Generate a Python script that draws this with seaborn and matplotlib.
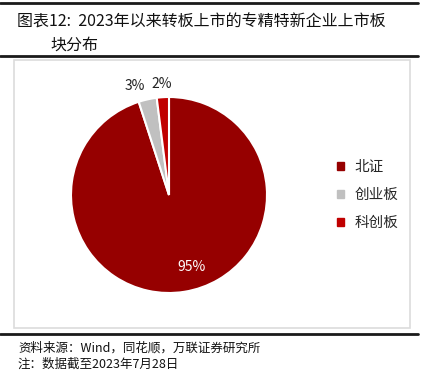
import matplotlib
matplotlib.use("Agg")
import matplotlib.pyplot as plt
import seaborn as sns
import numpy as np
from matplotlib.patches import Rectangle
from matplotlib.lines import Line2D

sns.set_theme(style="white")
plt.rcParams['font.family'] = ['Noto Sans CJK SC', 'DejaVu Sans']

# data
boards = ['北证', '创业板', '科创板']
shares = [95, 3, 2]
colors = ['#960000', '#c0c0c0', '#c00000']

W, H = 431, 374
fig = plt.figure(figsize=(W / 100, H / 100), dpi=100)

def fx(px):
    return px / W

def fy(py):
    return 1 - py / H

# title rules and frame
for y, lw in [(3, 2.0), (56, 2.0), (334, 2.0)]:
    fig.add_artist(Line2D([0, fx(418)], [fy(y), fy(y)], color='#1a1a1a', lw=lw))
fig.add_artist(Rectangle((fx(14), fy(328)), fx(396), 268 / H, fill=False,
                         edgecolor='#dcdcdc', lw=1.2))

fig.text(fx(17), fy(22), '图表12:  2023年以来转板上市的专精特新企业上市板',
         fontsize=11.5, va='center', ha='left', color='#111111')
fig.text(fx(50), fy(45), '块分布', fontsize=11.5, va='center', ha='left', color='#111111')

# pie
cx, cy, r = 169, 195, 98
ax = fig.add_axes([fx(cx - r), fy(cy + r), 2 * r / W, 2 * r / H])
wedges, texts = ax.pie(shares, colors=colors, startangle=90, counterclock=False,
                       labels=[f'{v}%' for v in shares], labeldistance=1.14,
                       wedgeprops=dict(edgecolor='white', linewidth=1.5),
                       textprops=dict(fontsize=10, color='#222222'))
ax.set_xlim(-1, 1)
ax.set_ylim(-1, 1)
ax.set_aspect('auto')
ax.axis('off')

# big slice label inside
ang = np.deg2rad(-73)
texts[0].set_position((0.77 * np.cos(ang), 0.77 * np.sin(ang)))
texts[0].set_color('white')
for t in texts:
    t.set_va('center')
texts[0].set_ha('center')
texts[1].set_ha('right')
texts[2].set_ha('center')

# legend
handles = [Rectangle((0, 0), 1, 1, color=c) for c in colors]
fig.legend(handles, boards, loc='center left', bbox_to_anchor=(fx(324), fy(195)),
           frameon=False, fontsize=10.5, handlelength=0.5, handleheight=0.5,
           handletextpad=0.7, labelspacing=0.95)

fig.text(fx(18), fy(348), '资料来源：Wind，同花顺，万联证券研究所', fontsize=9,
         style='italic', va='center', ha='left', color='#111111')
fig.text(fx(18), fy(364), '注：数据截至2023年7月28日', fontsize=9,
         style='italic', va='center', ha='left', color='#111111')

fig.savefig('out.png', dpi=100)
